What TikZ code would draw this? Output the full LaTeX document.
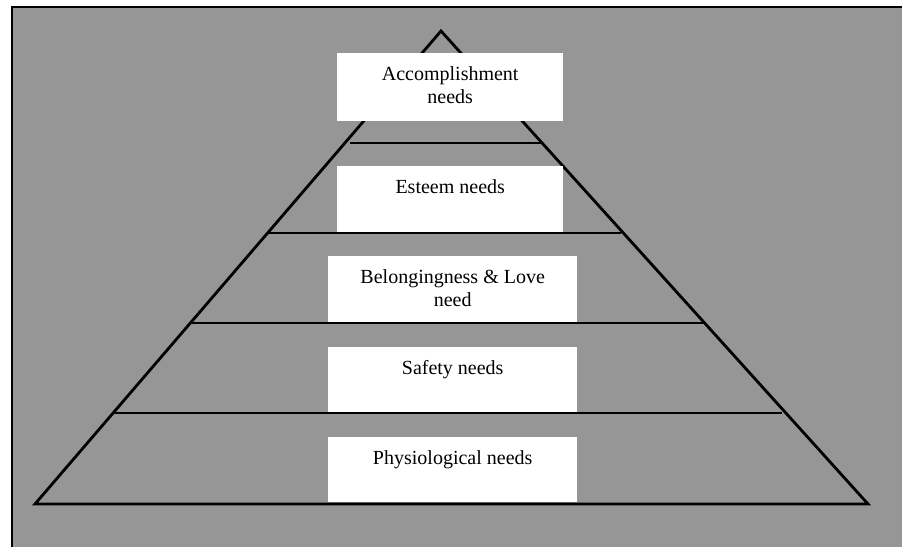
\documentclass[tikz,border=0pt]{standalone}
\usepackage{fontspec}
\setmainfont{Liberation Serif}
\begin{document}
\begin{tikzpicture}[x=1pt,y=-1pt,
  frameline/.style={line width=2pt},
  pyramidline/.style={line width=2.8pt, line join=miter},
  tierline/.style={line width=2pt},
  needbox/.style={fill=white, draw=none, inner sep=0pt, anchor=north west},
  needtext/.style={font=\fontsize{20}{23}\selectfont, align=center, anchor=north, inner sep=0pt, yshift=-13.3pt}]
\definecolor{panelgray}{RGB}{150,150,150}
\useasboundingbox (0,0) rectangle (902,547);
\fill[white] (0,0) rectangle (902,547);
\fill[panelgray] (12,7) rectangle (902,547);
\draw[frameline] (12,547) -- (12,7) -- (902,7);

% pyramid outline
\coordinate (apex) at (441,31);
\coordinate (baseL) at (35,504);
\coordinate (baseR) at (868,504);
\draw[pyramidline] (baseL) -- (apex) -- (baseR) -- cycle;

% white label panels, one per level
\node[needbox, minimum width=226pt, minimum height=68pt] (accomplish) at (337,53) {};
\node[needbox, minimum width=226pt, minimum height=66pt] (esteem) at (337,166) {};
\node[needbox, minimum width=249pt, minimum height=66pt] (belonging) at (328,256) {};
\node[needbox, minimum width=249pt, minimum height=65pt] (safety) at (328,347) {};
\node[needbox, minimum width=249pt, minimum height=65pt] (physio) at (328,437) {};

\node[needtext] (accomplishT) at (accomplish.north) {Accomplishment\\needs};
\node[needtext] (esteemT) at (esteem.north) {Esteem needs};
\node[needtext] (belongingT) at (belonging.north) {Belongingness \& Love\\need};
\node[needtext] (safetyT) at (safety.north) {Safety needs};
\node[needtext] (physioT) at (physio.north) {Physiological needs};

% dividing lines between the levels
\coordinate (t1L) at (350,143); \coordinate (t1R) at (542,143);
\coordinate (t2L) at (268,233); \coordinate (t2R) at (621,233);
\coordinate (t3L) at (192,323); \coordinate (t3R) at (703,323);
\coordinate (t4L) at (113,413); \coordinate (t4R) at (782,413);
\draw[tierline] (t1L) -- (t1R);
\draw[tierline] (t2L) -- (t2R);
\draw[tierline] (t3L) -- (t3R);
\draw[tierline] (t4L) -- (t4R);
\end{tikzpicture}
\end{document}
